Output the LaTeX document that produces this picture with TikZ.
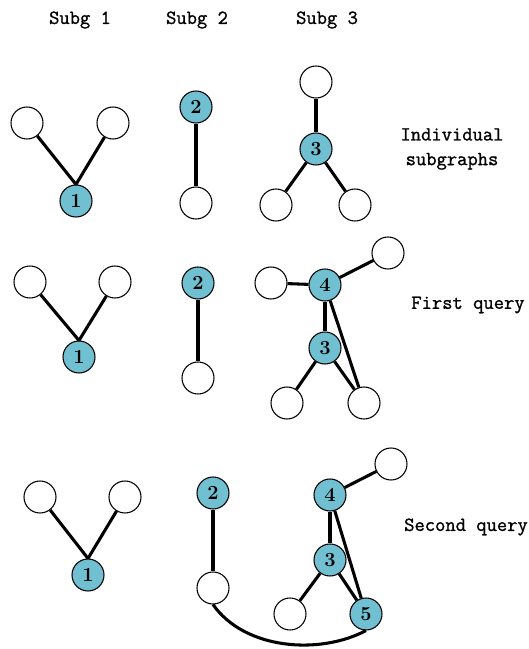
\documentclass[tikz,border=0pt]{standalone}
\usepackage{fontspec}
\usepackage{tikz}
\newfontfamily\lblfont{Latin Modern Mono}[FakeBold=1.2]
\definecolor{qblue}{RGB}{112,192,210}

\begin{document}
\begin{tikzpicture}[x=0.75pt,y=-0.75pt,
    vtx/.style={circle,draw=black,line width=0.8pt,fill=white,minimum size=24pt,inner sep=0pt},
    hit/.style={vtx,fill=qblue,font=\fontsize{15}{16}\selectfont\bfseries},
    edge/.style={black,line width=2.3pt},
    lbl/.style={font=\lblfont\fontsize{15}{18.5}\selectfont,align=center}]
  \useasboundingbox (0,0) rectangle (528,649);

  % titles
  \node[lbl] (t1) at (80,20) {Subg 1};
  \node[lbl] (t2) at (197,20) {Subg 2};
  \node[lbl] (t3) at (327,20) {Subg 3};
  \node[lbl] (r1) at (452,149) {Individual\\subgraphs};
  \node[lbl] (r2) at (468,305) {First query};
  \node[lbl] (r3) at (466,527) {Second query};

  % individual subgraphs
  \node[vtx] (a1l) at (27,123) {};
  \node[vtx] (a1r) at (113,123) {};
  \node[hit] (a1) at (76,201) {1};
  \node[hit] (a2) at (196,107) {2};
  \node[vtx] (a2b) at (196,203) {};
  \node[vtx] (a3t) at (316,82) {};
  \node[hit] (a3) at (316,149) {3};
  \node[vtx] (a3l) at (276,205) {};
  \node[vtx] (a3r) at (355,205) {};
  \draw[edge] (a1l) -- (a1.north);
  \draw[edge] (a1r) -- (a1.north);
  \draw[edge] (a2) -- (a2b);
  \draw[edge] (a3t) -- (a3);
  \draw[edge] (a3) -- (a3l);
  \draw[edge] (a3) -- (a3r);

  % first query
  \node[vtx] (b1l) at (30,282) {};
  \node[vtx] (b1r) at (115,282) {};
  \node[hit] (b1) at (79,357) {1};
  \node[hit] (b2) at (198,283) {2};
  \node[vtx] (b2b) at (198,378) {};
  \node[vtx] (b4l) at (271,283) {};
  \node[hit] (b4) at (325,285) {4};
  \node[vtx] (b4r) at (388,253) {};
  \node[hit] (b3) at (325,348) {3};
  \node[vtx] (b3l) at (287,403) {};
  \node[vtx] (b3r) at (364,403) {};
  \draw[edge] (b1l) -- (b1.north);
  \draw[edge] (b1r) -- (b1.north);
  \draw[edge] (b2) -- (b2b);
  \draw[edge] (b4l) -- (b4);
  \draw[edge] (b4) -- (b4r);
  \draw[edge] (b4) -- (b3);
  \draw[edge] (b3) -- (b3l);
  \draw[edge] (b3) -- (b3r);
  \draw[edge] (b4) -- (b3r);

  % second query
  \node[vtx] (c1l) at (40,497) {};
  \node[vtx] (c1r) at (125,497) {};
  \node[hit] (c1) at (88,575) {1};
  \node[hit] (c2) at (213,493) {2};
  \node[vtx] (c2b) at (213,588) {};
  \node[hit] (c4) at (330,495) {4};
  \node[vtx] (c4r) at (391,464) {};
  \node[hit] (c3) at (330,560) {3};
  \node[vtx] (c3l) at (290,614) {};
  \node[hit] (c5) at (366,614) {5};
  \draw[edge] (c1l) -- (c1.north);
  \draw[edge] (c1r) -- (c1.north);
  \draw[edge] (c2) -- (c2b);
  \draw[edge] (c4) -- (c4r);
  \draw[edge] (c4) -- (c3);
  \draw[edge] (c3) -- (c3l);
  \draw[edge] (c3) -- (c5);
  \draw[edge] (c4) -- (c5);
  \draw[edge] (c2b.south) .. controls (245,650) and (320,655) .. (c5.south);
\end{tikzpicture}
\end{document}
